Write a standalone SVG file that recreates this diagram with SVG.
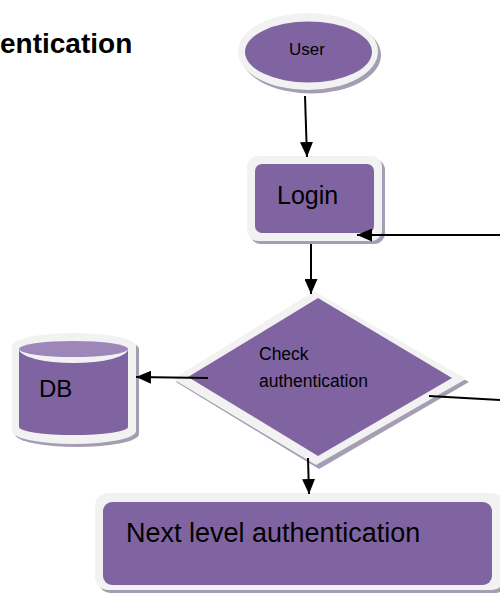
<svg xmlns="http://www.w3.org/2000/svg" width="500" height="593" viewBox="0 0 500 593">
<style>
.ring{fill:#f2f2f2}
.shadow{fill:#a59db2}
.body{fill:#8064a2}
.lid{fill:#9c86ba}
.lbl{font-family:"Liberation Sans",Arial,sans-serif;fill:#000}
.edge{stroke:#000;stroke-width:2;fill:none}
</style>
<defs>
<marker id="ah" markerUnits="userSpaceOnUse" markerWidth="15" markerHeight="13" refX="15" refY="6.5" orient="auto">
<path d="M0,0 L15,6.5 L0,13 Z" fill="#000"/>
</marker>
</defs>
<rect width="500" height="593" fill="#fff"/>
<text class="lbl" x="0" y="53" font-size="28" font-weight="bold">entication</text>
<g id="user">
<ellipse class="shadow" cx="311" cy="55" rx="70" ry="38.5"/>
<ellipse class="ring" cx="308" cy="51.5" rx="70" ry="38.5"/>
<ellipse class="body" cx="308.5" cy="52" rx="63.5" ry="30.5"/>
<text class="lbl" x="307" y="55" font-size="17" text-anchor="middle">User</text>
</g>
<g id="login">
<rect class="shadow" x="250" y="159" width="135" height="85" rx="11"/>
<rect class="ring" x="247" y="156" width="135" height="85" rx="11"/>
<rect class="body" x="255" y="164" width="119" height="69" rx="7"/>
<text class="lbl" x="277" y="204" font-size="25">Login</text>
</g>
<g id="check">
<polygon class="shadow" points="317,294 469,382 319,469 176,382"/>
<polygon class="ring" points="314,291 466,379 316,465 173,379"/>
<polygon class="body" points="318,298 452,378 318,456 188,377"/>
<text class="lbl" x="259" y="360" font-size="17.5">Check</text>
<text class="lbl" x="259" y="387" font-size="17.5">authentication</text>
</g>
<g id="db">
<path class="shadow" d="M15,349 A62,13 0 0 1 139,349 L139,434 A62,13 0 0 1 15,434 Z"/>
<path class="ring" d="M12,346 A62,13 0 0 1 136,346 L136,431 A62,13 0 0 1 12,431 Z"/>
<ellipse class="lid" cx="73.5" cy="349" rx="54.5" ry="8"/>
<path class="body" d="M19,349 A54.5,14 0 0 0 128,349 L128,427 A54.5,8 0 0 1 19,427 Z"/>
<text class="lbl" x="39" y="397" font-size="24">DB</text>
</g>
<g id="next">
<rect class="shadow" x="98" y="496" width="410" height="97" rx="13"/>
<rect class="ring" x="95" y="493" width="410" height="97" rx="13"/>
<rect class="body" x="103" y="502" width="389" height="83" rx="9"/>
<text class="lbl" x="126" y="542" font-size="27">Next level authentication</text>
</g>
<g id="connectors">
<line class="edge" x1="305" y1="96" x2="307" y2="157" marker-end="url(#ah)"/>
<line class="edge" x1="311" y1="244" x2="311" y2="294" marker-end="url(#ah)"/>
<line class="edge" x1="500" y1="235" x2="357" y2="235" marker-end="url(#ah)"/>
<line class="edge" x1="208" y1="378" x2="136" y2="377" marker-end="url(#ah)"/>
<line class="edge" x1="429" y1="396" x2="500" y2="400"/>
<line class="edge" x1="308" y1="458" x2="309" y2="494" marker-end="url(#ah)"/>
</g>
</svg>
